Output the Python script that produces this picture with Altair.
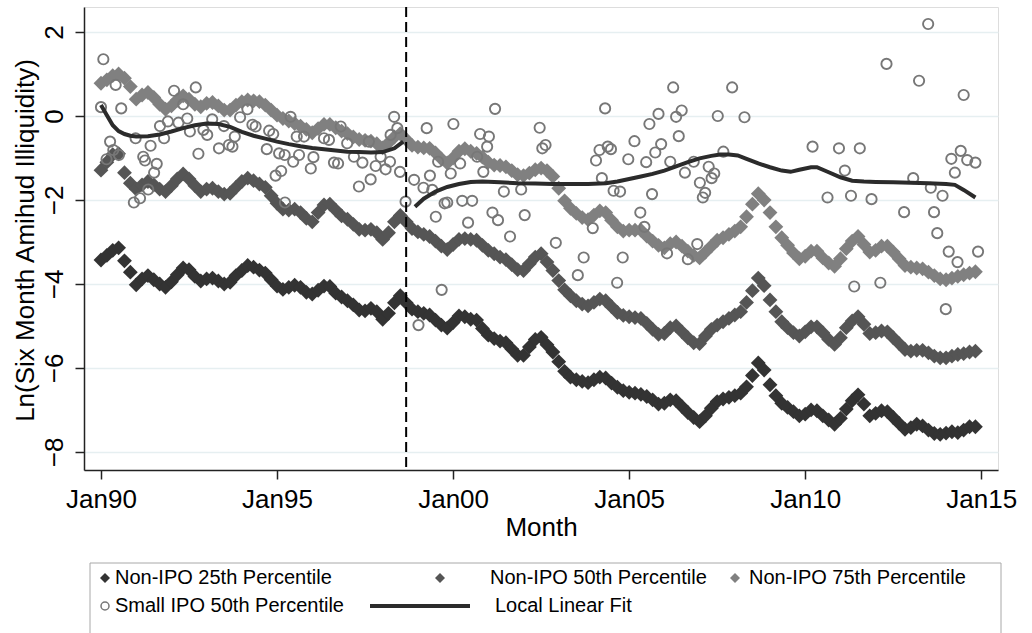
import altair as alt
import pandas as pd

# ---------------- data ----------------
# months since Jan 1990
series_months = list(range(0, 300, 2))

p25 = [
    -3.43, -3.32, -3.20, -3.14, -3.45, -3.72, -4.02, -3.88, -3.80, -3.90,
    -4.00, -4.08, -3.95, -3.78, -3.62, -3.66, -3.82, -3.93, -3.88, -3.86,
    -3.93, -4.00, -3.96, -3.80, -3.68, -3.56, -3.60, -3.67, -3.74, -3.90,
    -4.05, -4.13, -4.08, -4.03, -4.08, -4.20, -4.24, -4.15, -4.05, -4.06,
    -4.22, -4.31, -4.40, -4.50, -4.62, -4.64, -4.58, -4.66, -4.84, -4.70,
    -4.45, -4.28, -4.45, -4.60, -4.66, -4.70, -4.74, -4.86, -4.98, -5.05,
    -4.92, -4.76, -4.78, -4.84, -4.86, -5.06, -5.22, -5.30, -5.36, -5.40,
    -5.55, -5.70, -5.70, -5.50, -5.32, -5.27, -5.45, -5.62, -5.85, -6.08,
    -6.22, -6.28, -6.32, -6.35, -6.28, -6.22, -6.24, -6.36, -6.46, -6.54,
    -6.58, -6.60, -6.63, -6.68, -6.76, -6.86, -6.84, -6.76, -6.78, -6.92,
    -7.06, -7.18, -7.28, -7.14, -6.96, -6.80, -6.74, -6.70, -6.66, -6.60,
    -6.45, -6.18, -5.88, -6.05, -6.40, -6.66, -6.84, -6.94, -7.04, -7.14,
    -7.10, -7.00, -7.02, -7.14, -7.24, -7.34, -7.20, -6.98, -6.78, -6.64,
    -6.86, -7.14, -7.08, -7.02, -7.04, -7.18, -7.32, -7.46, -7.42, -7.34,
    -7.38, -7.48, -7.56, -7.58, -7.55, -7.52, -7.54, -7.48, -7.40, -7.40,
]

p50 = [
    -1.29, -1.10, -0.92, -0.90, -1.35, -1.60, -1.74, -1.64, -1.56, -1.64,
    -1.74, -1.80, -1.66, -1.50, -1.38, -1.50, -1.66, -1.80, -1.74, -1.72,
    -1.80, -1.86, -1.84, -1.70, -1.56, -1.48, -1.54, -1.62, -1.70, -1.90,
    -2.08, -2.22, -2.24, -2.22, -2.30, -2.44, -2.52, -2.30, -2.12, -2.10,
    -2.24, -2.38, -2.46, -2.58, -2.70, -2.72, -2.70, -2.78, -2.94, -2.78,
    -2.52, -2.37, -2.52, -2.68, -2.76, -2.82, -2.87, -2.98, -3.10, -3.18,
    -3.06, -2.94, -2.92, -2.94, -2.96, -3.08, -3.20, -3.28, -3.36, -3.42,
    -3.54, -3.66, -3.68, -3.52, -3.36, -3.28, -3.48, -3.68, -3.92, -4.14,
    -4.28, -4.40, -4.48, -4.52, -4.44, -4.36, -4.40, -4.54, -4.68, -4.75,
    -4.78, -4.80, -4.82, -4.94, -5.08, -5.20, -5.18, -5.04, -5.00, -5.14,
    -5.28, -5.40, -5.42, -5.24, -5.08, -4.98, -4.90, -4.82, -4.74, -4.66,
    -4.44, -4.16, -3.86, -4.04, -4.38, -4.66, -4.90, -5.04, -5.16, -5.24,
    -5.14, -5.02, -5.02, -5.16, -5.32, -5.44, -5.28, -5.04, -4.88, -4.78,
    -4.96, -5.18, -5.16, -5.12, -5.14, -5.28, -5.42, -5.56, -5.60, -5.58,
    -5.58, -5.64, -5.72, -5.76, -5.76, -5.72, -5.68, -5.66, -5.62, -5.60,
]

p75 = [
    0.78, 0.86, 0.96, 1.00, 0.90, 0.70, 0.40, 0.50, 0.56, 0.44,
    0.28, 0.16, 0.24, 0.38, 0.48, 0.40, 0.28, 0.22, 0.30, 0.32,
    0.24, 0.14, 0.14, 0.26, 0.34, 0.38, 0.36, 0.34, 0.26, 0.14,
    0.02, -0.06, -0.12, -0.18, -0.24, -0.32, -0.40, -0.30, -0.20, -0.20,
    -0.28, -0.36, -0.42, -0.50, -0.56, -0.58, -0.60, -0.66, -0.76, -0.64,
    -0.50, -0.42, -0.56, -0.70, -0.74, -0.76, -0.77, -0.88, -1.02, -1.12,
    -1.00, -0.84, -0.78, -0.84, -0.89, -0.98, -1.10, -1.17, -1.18, -1.21,
    -1.30, -1.40, -1.42, -1.36, -1.28, -1.24, -1.30, -1.44, -1.72, -2.02,
    -2.20, -2.32, -2.42, -2.47, -2.36, -2.26, -2.30, -2.48, -2.64, -2.74,
    -2.72, -2.72, -2.72, -2.86, -2.98, -3.08, -3.14, -3.04, -3.00, -3.10,
    -3.22, -3.32, -3.38, -3.24, -3.10, -2.96, -2.90, -2.82, -2.74, -2.64,
    -2.40, -2.10, -1.85, -2.00, -2.30, -2.64, -2.90, -3.08, -3.26, -3.40,
    -3.34, -3.22, -3.22, -3.38, -3.50, -3.58, -3.40, -3.16, -2.98, -2.87,
    -3.06, -3.24, -3.20, -3.10, -3.10, -3.24, -3.40, -3.56, -3.60, -3.62,
    -3.64, -3.72, -3.80, -3.88, -3.90, -3.86, -3.82, -3.78, -3.74, -3.71,
]

ipo_month = [
    0.8, 0.0, 5.0, 6.9, 3.1, 1.9, 4.2, 6.1, 11.2, 13.3,
    16.1, 14.4, 15.0, 16.9, 18.1, 19.0, 11.8, 20.1, 21.5, 22.8,
    24.9, 26.4, 28.0, 29.4, 30.3, 32.3, 33.2, 34.9, 36.2, 37.9,
    40.2, 41.9, 43.6, 44.8, 45.6, 47.4, 49.9, 51.6, 52.7, 56.5,
    57.3, 58.7, 60.7, 59.5, 61.4, 62.6, 62.7, 64.6, 65.5, 66.7,
    67.5, 69.2, 71.5, 72.4,
    76.0, 77.7, 79.4, 80.8, 81.7, 83.9, 86.2, 87.9, 89.1, 91.3,
    91.9, 93.6, 95.3, 97.0, 98.5, 98.7, 99.9, 101.0, 101.9, 103.8,
    106.7, 108.2, 109.9, 111.0, 112.1, 112.9, 114.1, 114.9, 116.1, 117.1,
    118.0, 119.2, 120.1, 122.4, 123.1, 125.1, 126.5, 128.2, 129.2, 130.3,
    131.6, 132.2, 133.4, 134.3, 135.3, 137.3, 139.4, 143.2, 144.4, 149.5,
    150.4, 151.5, 155.0,
    162.5, 164.5, 167.6, 168.7, 169.9, 170.7, 171.8, 172.7, 173.8, 174.7,
    175.9, 176.9, 177.8, 179.7, 181.8, 183.8, 185.2, 185.8, 186.9, 187.8,
    188.9, 190.0, 190.9, 192.9, 194.0, 195.0, 196.0, 196.9, 197.9, 199.0,
    200.0, 202.0, 203.2, 204.1, 205.1, 205.9, 207.1, 208.1, 209.0, 210.2,
    212.1, 215.1, 219.3,
    242.5, 247.6, 251.5, 253.5, 255.6, 256.7, 258.6, 262.6, 265.6, 267.7,
    273.7, 276.8, 278.8, 281.9, 282.8, 283.9, 285.0, 286.8, 287.9, 288.9,
    289.8, 291.0, 291.9, 293.0, 294.0, 295.2, 298.0, 298.9,
]
ipo_value = [
    1.35, 0.21, 0.74, 0.18, -0.61, -1.03, -0.81, -0.93, -2.06, -1.96,
    -1.75, -0.97, -1.06, -0.71, -1.35, -1.14, -0.53, -0.24, -0.53, -0.13,
    0.60, -0.16, 0.28, -0.06, -0.37, 0.68, -0.90, -0.33, -0.45, -0.08,
    -0.77, -0.24, -0.69, -0.73, -0.49, -0.03, 0.16, -0.21, -0.25, -0.79,
    -0.35, -0.43, -0.89, -1.42, -1.31, -0.93, -2.06, -0.02, -1.09, -0.49,
    -0.93, -0.49, -1.25, -0.98,
    -0.53, -0.57, -1.11, -1.13, -0.25, -0.65, -0.97, -1.68, -1.11, -0.61,
    -1.51, -1.19, -0.97, -1.27, -1.09, -0.45, -0.02, -0.29, -1.33, -2.04,
    -1.52, -4.98, -1.71, -0.29, -1.42, -1.76, -2.40, -1.09, -4.14, -2.08,
    -2.06, -1.37, -0.19, -1.13, -2.02, -2.54, -2.02, -0.97, -0.43, -1.33,
    -0.73, -0.49, -2.30, 0.17, -2.48, -1.80, -2.87, -1.75, -2.36, -0.28,
    -0.77, -0.69, -3.02,
    -3.79, -3.37, -2.67, -1.06, -0.81, -1.48, 0.18, -0.73, -0.79, -1.78,
    -3.97, -1.80, -3.37, -1.03, -0.60, -2.30, -2.64, -1.10, -0.19, -1.86,
    -0.87, 0.05, -0.67, -3.27, -1.09, 0.68, -0.02, -0.48, 0.13, -1.35,
    -3.41, -1.09, -3.05, -1.59, -1.94, -1.83, -1.21, -1.48, -1.37, 0.00,
    -0.85, 0.68, -0.03,
    -0.73, -1.94, -0.77, -1.30, -1.90, -4.06, -0.77, -1.98, -3.97, 1.24,
    -2.29, -1.48, 0.84, 2.19, -1.71, -2.29, -2.79, -1.90, -4.60, -3.23,
    -1.02, -1.35, -3.48, -0.83, 0.50, -1.05, -1.11, -3.23,
]

fit_pre_month = [0, 2, 4, 6, 8, 10, 12, 16, 20, 24, 28, 32, 36, 40, 44,
                 48, 52, 56, 60, 64, 68, 72, 76, 80, 84, 88, 92, 96, 100, 103]
fit_pre_value = [0.26, 0.02, -0.22, -0.36, -0.43, -0.47, -0.49, -0.48, -0.44,
                 -0.37, -0.29, -0.22, -0.18, -0.19, -0.26, -0.38, -0.47, -0.54,
                 -0.61, -0.67, -0.72, -0.76, -0.79, -0.82, -0.85, -0.86, -0.87,
                 -0.86, -0.77, -0.61]
fit_post_month = [107, 110, 114, 118, 122, 126, 130, 136, 142, 148,
                  154, 160, 166, 172, 176, 180, 184, 188, 192, 196,
                  200, 204, 208, 211, 214, 217, 220, 224, 228, 232,
                  235, 238, 242, 244, 248, 252, 256, 260, 264, 270,
                  276, 282, 288, 291, 294, 298]
fit_post_value = [-2.16, -1.97, -1.80, -1.69, -1.62, -1.57, -1.56, -1.58, -1.60, -1.61,
                  -1.62, -1.62, -1.62, -1.60, -1.56, -1.50, -1.44, -1.38, -1.30, -1.20,
                  -1.10, -1.01, -0.95, -0.92, -0.92, -0.94, -1.02, -1.13, -1.22, -1.30,
                  -1.33, -1.28, -1.22, -1.22, -1.34, -1.46, -1.54, -1.56, -1.57, -1.58,
                  -1.59, -1.60, -1.62, -1.64, -1.76, -1.94]

break_month = [104]

tick_months = [0, 60, 120, 180, 240, 300]
tick_labels = ["Jan90", "Jan95", "Jan00", "Jan05", "Jan10", "Jan15"]
y_ticks = [-8, -6, -4, -2, 0, 2]

names = ["Non-IPO 25th Percentile", "Non-IPO 50th Percentile",
         "Non-IPO 75th Percentile", "Small IPO 50th Percentile",
         "Local Linear Fit"]

# ---------------- frames ----------------
df25 = pd.DataFrame({"month": series_months, "value": p25, "series": names[0]})
df50 = pd.DataFrame({"month": series_months, "value": p50, "series": names[1]})
df75 = pd.DataFrame({"month": series_months, "value": p75, "series": names[2]})
dfipo = pd.DataFrame({"month": ipo_month, "value": ipo_value, "series": names[3]})
dffit = pd.concat([
    pd.DataFrame({"month": fit_pre_month, "value": fit_pre_value, "segment": "pre"}),
    pd.DataFrame({"month": fit_post_month, "value": fit_post_value, "segment": "post"}),
])
dffit["series"] = names[4]
dfbreak = pd.DataFrame({"month": break_month})

FONT = "Liberation Sans"

label_expr = " : ".join(
    f"datum.value == {m} ? '{l}'" for m, l in zip(tick_months, tick_labels)
) + " : ''"

x_enc = alt.X(
    "month:Q",
    scale=alt.Scale(domain=[-5.79, 305.7], nice=False, zero=False),
    axis=alt.Axis(
        values=tick_months, labelExpr=label_expr, title="Month",
        grid=False, domainColor="#222222", domainWidth=1.5,
        tickColor="#222222", tickWidth=1.5, tickSize=9,
        labelFont=FONT, labelFontSize=26, labelColor="black",
        labelBaseline="alphabetic", labelPadding=28,
        titleFont=FONT, titleFontSize=26, titleFontWeight="normal",
        titleColor="black", titleX=457, titleY=65, titleBaseline="alphabetic",
        titleAlign="center",
    ),
)
y_enc = alt.Y(
    "value:Q",
    scale=alt.Scale(domain=[-8.43, 2.595], nice=False, zero=False),
    axis=alt.Axis(
        values=y_ticks, title="Ln(Six Month Amihud Illiquidity)",
        grid=True, gridColor="#e6eff1", gridWidth=1.5,
        domainColor="#222222", domainWidth=1.5,
        tickColor="#222222", tickWidth=1.5, tickSize=9,
        labelFont=FONT, labelFontSize=26, labelColor="black",
        labelAngle=270, labelAlign="center", labelBaseline="alphabetic",
        labelPadding=13,
        titleFont=FONT, titleFontSize=26, titleFontWeight="normal",
        titleColor="black", titleAngle=270, titleX=-51, titleY=233,
        titleAlign="center", titleBaseline="alphabetic",
    ),
)


def leg(x, y, shape, size, offset, stroke_w=1.5):
    return alt.Legend(
        orient="none", legendX=x, legendY=y, padding=0,
        symbolType=shape, symbolSize=size, symbolStrokeWidth=stroke_w,
        labelFont=FONT, labelFontSize=20, labelColor="black",
        labelLimit=500, labelOffset=offset,
    )


def diamonds(df, name, color, lx, ly, loff):
    return alt.Chart(df).mark_point(
        shape="diamond", filled=True, size=220, opacity=1
    ).encode(
        x=x_enc, y=y_enc,
        color=alt.Color("series:N", title=None,
                        scale=alt.Scale(domain=[name], range=[color]),
                        legend=leg(lx, ly, "diamond", 100, loff, 0)),
    )


l25 = diamonds(df25, names[0], "#333333", 11, 561, 0)
l50 = diamonds(df50, names[1], "#555555", 346, 561, 40)
l75 = diamonds(df75, names[2], "#808080", 641, 561, 4)

lipo = alt.Chart(dfipo).mark_point(
    shape="circle", filled=False, size=105, strokeWidth=1.9, opacity=1
).encode(
    x=x_enc, y=y_enc,
    color=alt.Color("series:N", title=None,
                    scale=alt.Scale(domain=[names[3]], range=["#777777"]),
                    legend=leg(11, 589, "circle", 64, 0, 1.5)),
)

lfit = alt.Chart(dffit).mark_line(strokeWidth=4).encode(
    x=x_enc, y=y_enc, detail="segment:N",
    color=alt.Color("series:N", title=None,
                    scale=alt.Scale(domain=[names[4]], range=["#2b2b2b"]),
                    legend=leg(284, 547, "stroke", 10000, 23, 4)),
)

lbreak = alt.Chart(dfbreak).mark_rule(
    color="black", strokeWidth=2, strokeDash=[10, 5]
).encode(x=x_enc)

frame = alt.Chart(pd.DataFrame({"k": [0]})).mark_rect(
    fillOpacity=0, stroke="#a8a8a8", strokeWidth=1
).encode(
    x=alt.value(6), x2=alt.value(917), y=alt.value(556), y2=alt.value(700)
)

chart = alt.layer(
    l25, l50, l75, lipo, lfit, lbreak, frame
).resolve_scale(
    color="independent"
).properties(
    width=914, height=463,
    autosize=alt.AutoSizeParams(type="none"),
    padding={"left": 84, "top": 7, "right": 34, "bottom": 163},
).configure_view(
    stroke="transparent"
).configure(
    background="white"
)

chart.save("out.html", embed_options={"renderer": "svg", "actions": False})
